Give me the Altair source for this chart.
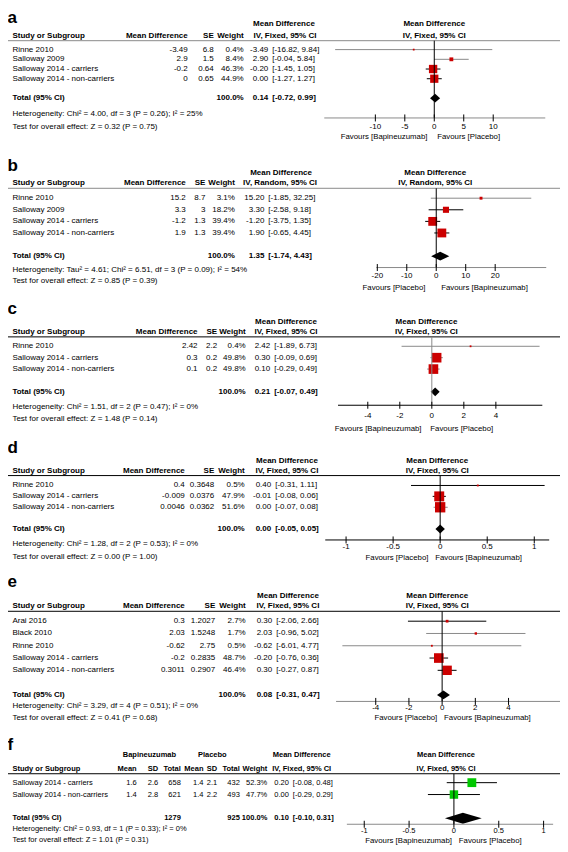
import altair as alt
import pandas as pd

# ======================= DATA =======================
# (a)
A_STUDY = ["Rinne 2010", "Salloway 2009", "Salloway 2014 - carriers", "Salloway 2014 - non-carriers"]
A_MD = ["-3.49", "2.9", "-0.2", "0"]
A_SE = ["6.8", "1.5", "0.64", "0.65"]
A_WEIGHT = [0.4, 8.4, 46.3, 44.9]
A_EST = [-3.49, 2.90, -0.20, 0.00]
A_LOW = [-16.82, -0.04, -1.45, -1.27]
A_HIGH = [9.84, 5.84, 1.05, 1.27]
A_TOTAL = [0.14, -0.72, 0.99]
A_TICKS = [-10, -5, 0, 5, 10]
A_FAVOURS = ["Favours [Bapineuzumab]", "Favours [Placebo]"]
A_METHOD = "IV, Fixed, 95% CI"
A_HET = "Heterogeneity: Chi² = 4.00, df = 3 (P = 0.26); I² = 25%"
A_TEST = "Test for overall effect: Z = 0.32 (P = 0.75)"

# (b)
B_STUDY = ["Rinne 2010", "Salloway 2009", "Salloway 2014 - carriers", "Salloway 2014 - non-carriers"]
B_MD = ["15.2", "3.3", "-1.2", "1.9"]
B_SE = ["8.7", "3", "1.3", "1.3"]
B_WEIGHT = [3.1, 18.2, 39.4, 39.4]
B_EST = [15.20, 3.30, -1.20, 1.90]
B_LOW = [-1.85, -2.58, -3.75, -0.65]
B_HIGH = [32.25, 9.18, 1.35, 4.45]
B_TOTAL = [1.35, -1.74, 4.43]
B_TICKS = [-20, -10, 0, 10, 20]
B_FAVOURS = ["Favours [Placebo]", "Favours [Bapineuzumab]"]
B_METHOD = "IV, Random, 95% CI"
B_HET = "Heterogeneity: Tau² = 4.61; Chi² = 6.51, df = 3 (P = 0.09); I² = 54%"
B_TEST = "Test for overall effect: Z = 0.85 (P = 0.39)"

# (c)
C_STUDY = ["Rinne 2010", "Salloway 2014 - carriers", "Salloway 2014 - non-carriers"]
C_MD = ["2.42", "0.3", "0.1"]
C_SE = ["2.2", "0.2", "0.2"]
C_WEIGHT = [0.4, 49.8, 49.8]
C_EST = [2.42, 0.30, 0.10]
C_LOW = [-1.89, -0.09, -0.29]
C_HIGH = [6.73, 0.69, 0.49]
C_TOTAL = [0.21, -0.07, 0.49]
C_TICKS = [-4, -2, 0, 2, 4]
C_FAVOURS = ["Favours [Bapineuzumab]", "Favours [Placebo]"]
C_METHOD = "IV, Fixed, 95% CI"
C_HET = "Heterogeneity: Chi² = 1.51, df = 2 (P = 0.47); I² = 0%"
C_TEST = "Test for overall effect: Z = 1.48 (P = 0.14)"

# (d)
D_STUDY = ["Rinne 2010", "Salloway 2014 - carriers", "Salloway 2014 - non-carriers"]
D_MD = ["0.4", "-0.009", "0.0046"]
D_SE = ["0.3648", "0.0376", "0.0362"]
D_WEIGHT = [0.5, 47.9, 51.6]
D_EST = [0.40, -0.01, 0.00]
D_LOW = [-0.31, -0.08, -0.07]
D_HIGH = [1.11, 0.06, 0.08]
D_TOTAL = [0.00, -0.05, 0.05]
D_TICKS = [-1, -0.5, 0, 0.5, 1]
D_FAVOURS = ["Favours [Placebo]", "Favours [Bapineuzumab]"]
D_METHOD = "IV, Fixed, 95% CI"
D_HET = "Heterogeneity: Chi² = 1.28, df = 2 (P = 0.53); I² = 0%"
D_TEST = "Test for overall effect: Z = 0.00 (P = 1.00)"

# (e)
E_STUDY = ["Arai 2016", "Black 2010", "Rinne 2010", "Salloway 2014 - carriers", "Salloway 2014 - non-carriers"]
E_MD = ["0.3", "2.03", "-0.62", "-0.2", "0.3011"]
E_SE = ["1.2027", "1.5248", "2.75", "0.2835", "0.2907"]
E_WEIGHT = [2.7, 1.7, 0.5, 48.7, 46.4]
E_EST = [0.30, 2.03, -0.62, -0.20, 0.30]
E_LOW = [-2.06, -0.96, -6.01, -0.76, -0.27]
E_HIGH = [2.66, 5.02, 4.77, 0.36, 0.87]
E_TOTAL = [0.08, -0.31, 0.47]
E_TICKS = [-4, -2, 0, 2, 4]
E_FAVOURS = ["Favours [Placebo]", "Favours [Bapineuzumab]"]
E_METHOD = "IV, Fixed, 95% CI"
E_HET = "Heterogeneity: Chi² = 3.29, df = 4 (P = 0.51); I² = 0%"
E_TEST = "Test for overall effect: Z = 0.41 (P = 0.68)"

# (f)
F_STUDY = ["Salloway 2014 - carriers", "Salloway 2014 - non-carriers"]
F_BAPI_MEAN = ["1.6", "1.4"]
F_BAPI_SD = ["2.6", "2.8"]
F_BAPI_N = [658, 621]
F_PLAC_MEAN = ["1.4", "1.4"]
F_PLAC_SD = ["2.1", "2.2"]
F_PLAC_N = [432, 493]
F_WEIGHT = [52.3, 47.7]
F_EST = [0.20, 0.00]
F_LOW = [-0.08, -0.29]
F_HIGH = [0.48, 0.29]
F_TOTAL = [0.10, -0.10, 0.31]
F_TICKS = [-1, -0.5, 0, 0.5, 1]
F_FAVOURS = ["Favours [Bapineuzumab]", "Favours [Placebo]"]
F_METHOD = "IV, Fixed, 95% CI"
F_HET = "Heterogeneity: Chi² = 0.93, df = 1 (P = 0.33); I² = 0%"
F_TEST = "Test for overall effect: Z = 1.01 (P = 0.31)"

# ======================= LAYOUT / STYLE =======================
FONT = "Liberation Sans"
W, H = 552, 844
SX, SY = 552 / 562, 844 / 852


def X(x):
    return (x - 3) * SX


def Y(y):
    return y * SY


GRAY, BLACK, TXT = "#8a8a8a", "#000000", "#000000"
RED, GREEN = "#cc0000", "#00c800"
FS_FAV, FS_LAB = 7.8, 17
STUDY_X = 7.5

PANELS = [
    dict(label="a", label_y=15.6, h1=16, h2=28, line=33, r0=42, dy=9.8, het_y=107, test_y=120,
         axis=111, ticklab=120, fav=130, zero=437, ppu=6.0, ax=(325, 550), fp_c=437,
         fav_l=430, fav_r=440, sq=8.5, ref_w=46.3, dia=4.5, fs=8.0,
         line_col=GRAY, axis_col=GRAY, zero_col=BLACK, ci_col=[GRAY, GRAY, BLACK, BLACK], marker=RED,
         study=A_STUDY, est=A_EST, low=A_LOW, high=A_HIGH, weight=A_WEIGHT, total=A_TOTAL,
         ticks=A_TICKS, favours=A_FAVOURS, het=A_HET, test=A_TEST, method=A_METHOD,
         cols=[(A_MD, 186), (A_SE, 212.5)], w_r=243, est_r=268, br_l=272,
         hdr1=[("Mean Difference", 284, "center")],
         hdr2=[("Mean Difference", 186, "right"), ("SE", 212.5, "right"), ("Weight", 243, "right"),
               (A_METHOD, 285, "center")],
         extra_tot=[]),
    dict(label="b", label_y=165, h1=167, h2=177, line=182, r0=192, dy=11.7, het_y=264, test_y=276,
         axis=262, ticklab=271, fav=283, zero=439, ppu=3.0, ax=(378, 551), fp_c=438,
         fav_l=428, fav_r=444, sq=9.0, ref_w=39.4, dia=4.5, fs=8.0,
         line_col=GRAY, axis_col=GRAY, zero_col=BLACK, ci_col=[GRAY, BLACK, BLACK, BLACK], marker=RED,
         study=B_STUDY, est=B_EST, low=B_LOW, high=B_HIGH, weight=B_WEIGHT, total=B_TOTAL,
         ticks=B_TICKS, favours=B_FAVOURS, het=B_HET, test=B_TEST, method=B_METHOD,
         cols=[(B_MD, 184), (B_SE, 204)], w_r=234, est_r=264, br_l=268,
         hdr1=[("Mean Difference", 281, "center")],
         hdr2=[("Mean Difference", 184, "right"), ("SE", 204, "right"), ("Weight", 234, "right"),
               (B_METHOD, 280, "center")],
         extra_tot=[]),
    dict(label="c", label_y=309, h1=317, h2=327, line=332, r0=341.5, dy=11.5, het_y=403, test_y=414.5,
         axis=401, ticklab=412, fav=425, zero=434.5, ppu=16.3, ax=(339, 547), fp_c=429,
         fav_l=424, fav_r=433, sq=9.8, ref_w=49.8, dia=4.5, fs=8.0,
         line_col=BLACK, axis_col=BLACK, zero_col=GRAY, ci_col=[GRAY, GRAY, GRAY], marker=RED,
         study=C_STUDY, est=C_EST, low=C_LOW, high=C_HIGH, weight=C_WEIGHT, total=C_TOTAL,
         ticks=C_TICKS, favours=C_FAVOURS, het=C_HET, test=C_TEST, method=C_METHOD,
         cols=[(C_MD, 196), (C_SE, 216)], w_r=245, est_r=270, br_l=274,
         hdr1=[("Mean Difference", 286, "center")],
         hdr2=[("Mean Difference", 196, "right"), ("SE", 216, "right"), ("Weight", 245, "right"),
               (C_METHOD, 286, "center")],
         extra_tot=[]),
    dict(label="d", label_y=449, h1=457, h2=467, line=472, r0=482, dy=11.0, het_y=541, test_y=554,
         axis=537, ticklab=544, fav=555, zero=443, ppu=95.8, ax=(326, 554), fp_c=440,
         fav_l=431, fav_r=438, sq=10.5, ref_w=51.6, dia=4.5, fs=8.0,
         line_col=BLACK, axis_col=BLACK, zero_col=BLACK, ci_col=[BLACK, BLACK, GRAY], marker=RED,
         study=D_STUDY, est=D_EST, low=D_LOW, high=D_HIGH, weight=D_WEIGHT, total=D_TOTAL,
         ticks=D_TICKS, favours=D_FAVOURS, het=D_HET, test=D_TEST, method=D_METHOD,
         cols=[(D_MD, 183), (D_SE, 213)], w_r=244, est_r=271, br_l=275,
         hdr1=[("Mean Difference", 287, "center")],
         hdr2=[("Mean Difference", 183, "right"), ("SE", 213, "right"), ("Weight", 244, "right"),
               (D_METHOD, 287, "center")],
         extra_tot=[]),
    dict(label="e", label_y=584, h1=594, h2=604, line=609, r0=619, dy=12.4, het_y=705, test_y=717,
         axis=700, ticklab=707, fav=717, zero=445, ppu=16.9, ax=(337, 565), fp_c=440,
         fav_l=440, fav_r=447, sq=9.8, ref_w=48.7, dia=4.5, fs=8.0,
         line_col=BLACK, axis_col=GRAY, zero_col=BLACK, ci_col=[BLACK, GRAY, GRAY, BLACK, BLACK], marker=RED,
         study=E_STUDY, est=E_EST, low=E_LOW, high=E_HIGH, weight=E_WEIGHT, total=E_TOTAL,
         ticks=E_TICKS, favours=E_FAVOURS, het=E_HET, test=E_TEST, method=E_METHOD,
         cols=[(E_MD, 183), (E_SE, 214)], w_r=245, est_r=272, br_l=276,
         hdr1=[("Mean Difference", 288, "center")],
         hdr2=[("Mean Difference", 183, "right"), ("SE", 214, "right"), ("Weight", 245, "right"),
               (E_METHOD, 288, "center")],
         extra_tot=[]),
    dict(label="f", label_y=749, h1=754, h2=768, line=773, r0=782, dy=12.0, het_y=829, test_y=840,
         axis=824, ticklab=831, fav=841, zero=457, ppu=91.3, ax=(348, 558), fp_c=449,
         fav_l=455, fav_r=462, sq=9.0, ref_w=52.3, dia=5.5, fs=7.5,
         line_col=BLACK, axis_col=GRAY, zero_col=BLACK, ci_col=[BLACK, BLACK], marker=GREEN,
         study=F_STUDY, est=F_EST, low=F_LOW, high=F_HIGH, weight=F_WEIGHT, total=F_TOTAL,
         ticks=F_TICKS, favours=F_FAVOURS, het=F_HET, test=F_TEST, method=F_METHOD,
         cols=[(F_BAPI_MEAN, 134), (F_BAPI_SD, 156), (F_BAPI_N, 179),
               (F_PLAC_MEAN, 202), (F_PLAC_SD, 216), (F_PLAC_N, 239)],
         w_r=267, est_r=289, br_l=293,
         hdr1=[("Bapineuzumab", 147, "center"), ("Placebo", 211, "center"),
               ("Mean Difference", 302, "center")],
         hdr2=[("Mean", 134, "right"), ("SD", 156, "right"), ("Total", 179, "right"),
               ("Mean", 202, "right"), ("SD", 216, "right"), ("Total", 239, "right"),
               ("Weight", 267, "right"), (F_METHOD, 302, "center")],
         extra_tot=[(str(sum(F_BAPI_N)), 179), (str(sum(F_PLAC_N)), 239)]),
]

# ======================= BUILD =======================
groups = {}


def add(t, x, y, align="left", bold=False, size=8.0, baseline="middle"):
    groups.setdefault((align, bold, size, baseline), []).append((t, X(x), Y(y)))


hlines = []
panel_charts = []

for p in PANELS:
    n = len(p["study"])
    fs = p["fs"]
    add(p["label"], 2.5, p["label_y"], "left", True, FS_LAB, "alphabetic")
    for t, x, al in p["hdr1"]:
        add(t, x, p["h1"], al, True, fs)
    add("Mean Difference", p["fp_c"], p["h1"], "center", True, fs)
    add("Study or Subgroup", STUDY_X, p["h2"], "left", True, fs)
    for t, x, al in p["hdr2"]:
        add(t, x, p["h2"], al, True, fs)
    add(p["method"], p["fp_c"], p["h2"], "center", True, fs)
    add(p["het"], STUDY_X, p["het_y"], "left", False, fs)
    add(p["test"], STUDY_X, p["test_y"], "left", False, fs)
    add(p["favours"][0], p["fav_l"], p["fav"], "right", False, FS_FAV)
    add(p["favours"][1], p["fav_r"], p["fav"], "left", False, FS_FAV)
    hlines.append((X(3), X(565), Y(p["line"]), p["line_col"]))

    zx = X(p["zero"])
    k = p["ppu"] * SX
    xs = alt.Scale(domain=[-zx / k, (W - zx) / k], nice=False, zero=False)
    ys = alt.Scale(domain=[-p["r0"] / p["dy"], (H / SY - p["r0"]) / p["dy"]],
                   reverse=True, nice=False, zero=False)
    rows = list(range(n))
    trow = n + 1

    def tcol(values, r, x, align, bold=False, ys=ys, fs=fs):
        df = pd.DataFrame({"row": r, "v": [str(v) for v in values]})
        return alt.Chart(df).mark_text(
            align=align, baseline="middle", font=FONT, fontSize=fs,
            fontWeight="bold" if bold else "normal", color=TXT
        ).encode(x=alt.value(X(x)), y=alt.Y("row:Q", scale=ys, axis=None), text="v:N")

    layers = [tcol(p["study"], rows, STUDY_X, "left")]
    for vals, x in p["cols"]:
        layers.append(tcol(vals, rows, x, "right"))
    layers.append(tcol([f"{w:.1f}%" for w in p["weight"]], rows, p["w_r"], "right"))
    layers.append(tcol([f"{v:.2f}" for v in p["est"]], rows, p["est_r"], "right"))
    layers.append(tcol([f"[{a:.2f}, {b:.2f}]" for a, b in zip(p["low"], p["high"])], rows, p["br_l"], "left"))
    te, tl, th = p["total"]
    layers.append(tcol(["Total (95% CI)"], [trow], STUDY_X, "left", True))
    layers.append(tcol(["100.0%"], [trow], p["w_r"], "right", True))
    layers.append(tcol([f"{te:.2f}"], [trow], p["est_r"], "right", True))
    layers.append(tcol([f"[{tl:.2f}, {th:.2f}]"], [trow], p["br_l"], "left", True))
    for t, x in p["extra_tot"]:
        layers.append(tcol([t], [trow], x, "right", True))

    # forest plot: CI lines
    ci_df = pd.DataFrame({"row": rows, "lo": p["low"], "hi": p["high"], "c": p["ci_col"]})
    layers.append(alt.Chart(ci_df).mark_rule(strokeWidth=1).encode(
        x=alt.X("lo:Q", scale=xs, axis=None), x2="hi:Q",
        y=alt.Y("row:Q", scale=ys, axis=None),
        color=alt.Color("c:N", scale=None, legend=None)))
    # weighted squares
    sq_df = pd.DataFrame({"row": rows, "est": p["est"], "w": p["weight"]})
    layers.append(alt.Chart(sq_df).mark_square(filled=True, opacity=1, color=p["marker"]).encode(
        x=alt.X("est:Q", scale=xs, axis=None),
        y=alt.Y("row:Q", scale=ys, axis=None),
        size=alt.Size("w:Q", scale=alt.Scale(domain=[0, p["ref_w"]], range=[2.5, (p["sq"] * SX) ** 2]),
                      legend=None)))
    # pooled diamond
    hh = p["dia"] / p["dy"]
    dm_df = pd.DataFrame({"dx": [tl, te, th], "y1": [trow, trow - hh, trow], "y2": [trow, trow + hh, trow]})
    layers.append(alt.Chart(dm_df).mark_area(color="black", opacity=1, orient="vertical").encode(
        x=alt.X("dx:Q", scale=xs, axis=None),
        y=alt.Y("y1:Q", scale=ys, axis=None), y2="y2:Q"))
    # zero line
    layers.append(alt.Chart(pd.DataFrame({"z": [0]})).mark_rule(color=p["zero_col"], strokeWidth=1).encode(
        x=alt.X("z:Q", scale=xs, axis=None), y=alt.value(Y(p["line"])), y2=alt.value(Y(p["axis"]))))
    # axis line, ticks, tick labels
    ax_df = pd.DataFrame({"a": [(p["ax"][0] - p["zero"]) / p["ppu"]], "b": [(p["ax"][1] - p["zero"]) / p["ppu"]]})
    layers.append(alt.Chart(ax_df).mark_rule(color=p["axis_col"], strokeWidth=1).encode(
        x=alt.X("a:Q", scale=xs, axis=None), x2="b:Q", y=alt.value(Y(p["axis"]))))
    tk_df = pd.DataFrame({"t": p["ticks"], "lab": [str(t) for t in p["ticks"]]})
    layers.append(alt.Chart(tk_df).mark_rule(color="black", strokeWidth=1).encode(
        x=alt.X("t:Q", scale=xs, axis=None),
        y=alt.value(Y(p["axis"]) - 3.5), y2=alt.value(Y(p["axis"]) + 3.5)))
    layers.append(alt.Chart(tk_df).mark_text(
        font=FONT, fontSize=fs, color=TXT, baseline="middle", align="center").encode(
        x=alt.X("t:Q", scale=xs, axis=None), y=alt.value(Y(p["ticklab"])), text="lab:N"))

    panel_charts.append(alt.layer(*layers))

static_layers = []
for (align, bold, size, baseline), items in groups.items():
    df = pd.DataFrame(items, columns=["t", "px", "py"])
    static_layers.append(alt.Chart(df).mark_text(
        align=align, baseline=baseline, font=FONT, fontSize=size,
        fontWeight="bold" if bold else "normal", color=TXT
    ).encode(x=alt.X("px:Q", scale=None, axis=None), y=alt.Y("py:Q", scale=None, axis=None), text="t:N"))

hl_df = pd.DataFrame(hlines, columns=["x1", "x2", "y", "c"])
line_layer = alt.Chart(hl_df).mark_rule(strokeWidth=1).encode(
    x=alt.X("x1:Q", scale=None, axis=None), x2="x2:Q",
    y=alt.Y("y:Q", scale=None, axis=None),
    color=alt.Color("c:N", scale=None, legend=None))

chart = alt.layer(line_layer, *static_layers, *panel_charts).resolve_scale(
    x="independent", y="independent", size="independent"
).properties(
    width=W, height=H, padding=0, autosize=alt.AutoSizeParams(type="none")
).configure_view(strokeWidth=0)

chart.save("out.html", embed_options={"renderer": "svg", "actions": False})
